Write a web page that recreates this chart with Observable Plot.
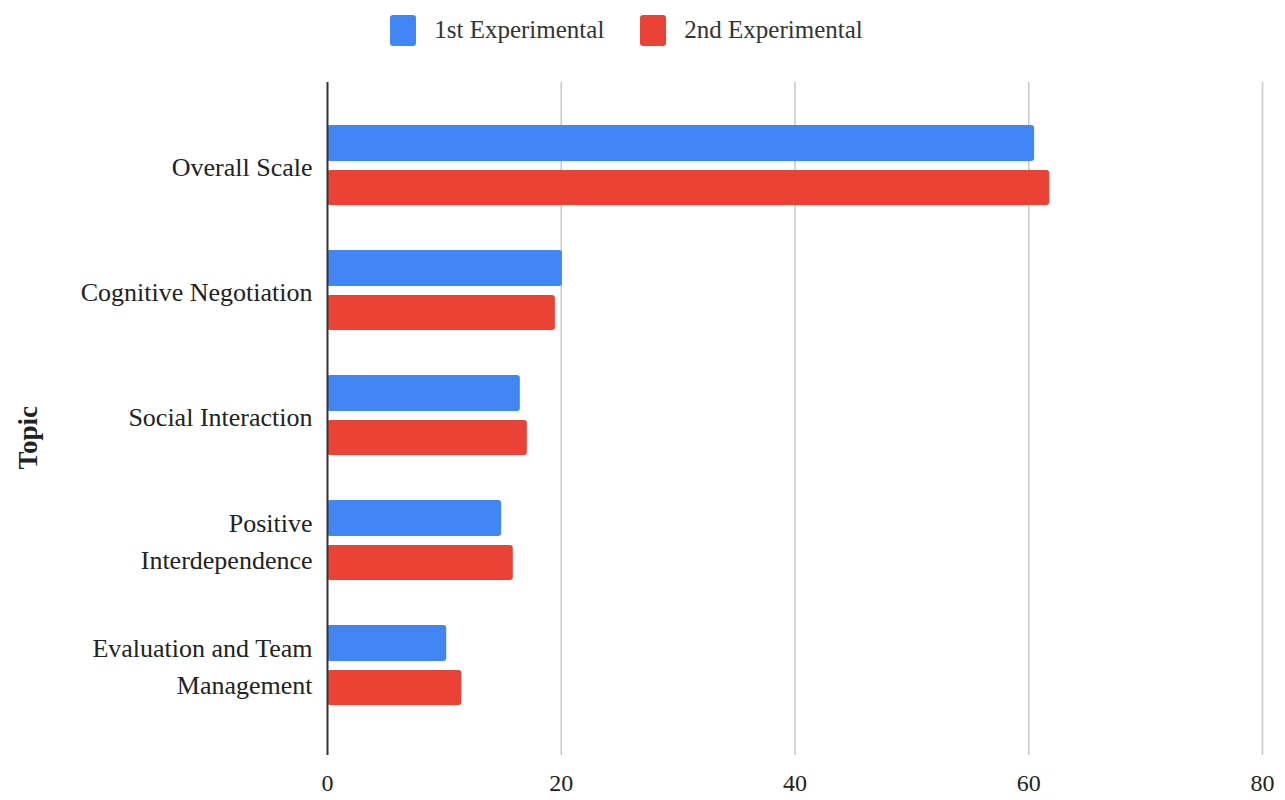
<!DOCTYPE html>
<html>
<head>
<meta charset="utf-8">
<script src="https://cdn.jsdelivr.net/npm/d3@7"></script>
<script src="https://cdn.jsdelivr.net/npm/@observablehq/plot@0.6"></script>
<style>
  html, body { margin: 0; padding: 0; background: #fff; }
  #legend { height: 60px; display: flex; align-items: center; justify-content: center; padding-right: 32px;
    font-family: "Liberation Serif", serif; font-size: 25px; color: #333; }
  .item { display: flex; align-items: center; margin: 0 18px; }
  .sw { width: 26px; height: 31px; border-radius: 3px; margin-right: 18px; }
  #chart svg, #chart svg text { font-family: "Liberation Serif", serif !important; }
</style>
</head>
<body>
<div id="legend"></div>
<div id="chart"></div>
<script>
const topics = ["Overall Scale", "Cognitive Negotiation", "Social Interaction", "Positive Interdependence", "Evaluation and Team Management"];
const topicLabels = ["Overall Scale", "Cognitive Negotiation", "Social Interaction", "Positive\nInterdependence", "Evaluation and Team\nManagement"];
const series = ["1st Experimental", "2nd Experimental"];
const firstValues = [60.5, 20.1, 16.5, 14.9, 10.2];
const secondValues = [61.8, 19.5, 17.1, 15.9, 11.5];
const colors = ["#4285F4", "#EA4335"];
const xTicks = [0, 20, 40, 60, 80];
const axisTitle = "Topic";

const rows = [];
topics.forEach((t, i) => {
  rows.push({topic: t, series: series[0], value: firstValues[i]});
  rows.push({topic: t, series: series[1], value: secondValues[i]});
});
const labelOf = new Map(topics.map((t, i) => [t, topicLabels[i]]));

const legend = document.getElementById("legend");
series.forEach((s, i) => {
  const it = document.createElement("div");
  it.className = "item";
  const sw = document.createElement("div");
  sw.className = "sw";
  sw.style.background = colors[i];
  const tx = document.createElement("span");
  tx.textContent = s;
  it.appendChild(sw); it.appendChild(tx);
  legend.appendChild(it);
});

const chart = Plot.plot({
  width: 1285,
  height: 740,
  marginTop: 22,
  marginBottom: 48,
  marginLeft: 327,
  marginRight: 23,
  style: {fontFamily: "'Liberation Serif', serif", fontSize: "24px", color: "#222", background: "#fff"},
  x: {domain: [0, 80], label: null},
  y: {domain: topics, paddingInner: 0.364, paddingOuter: 0.342, label: null},
  color: {domain: series, range: colors},
  marks: [
    Plot.ruleX(xTicks.slice(1), {stroke: "#c8c8c8", strokeWidth: 1.5, insetBottom: -3}),
    Plot.barX(rows.filter(d => d.series === series[0]), {y: "topic", x: "value", fill: "series", insetBottom: 46, insetTop: -2, rx: 3}),
    Plot.barX(rows.filter(d => d.series === series[1]), {y: "topic", x: "value", fill: "series", insetTop: 43, insetBottom: 2, rx: 3}),
    Plot.ruleX([0], {stroke: "#333", strokeWidth: 2, insetBottom: -3}),
    Plot.axisX({ticks: xTicks, tickSize: 0, tickPadding: 21, fontSize: 24, label: null}),
    Plot.axisY({tickSize: 0, tickPadding: 15, fontSize: 26, lineHeight: 1.45, dy: -4, tickFormat: d => labelOf.get(d), label: null}),
    Plot.text([axisTitle], {text: d => d, frameAnchor: "left", dx: -299, dy: 52, rotate: -90, fontWeight: "bold", fontSize: 27})
  ]
});
document.getElementById("chart").appendChild(chart);
</script>
</body>
</html>
